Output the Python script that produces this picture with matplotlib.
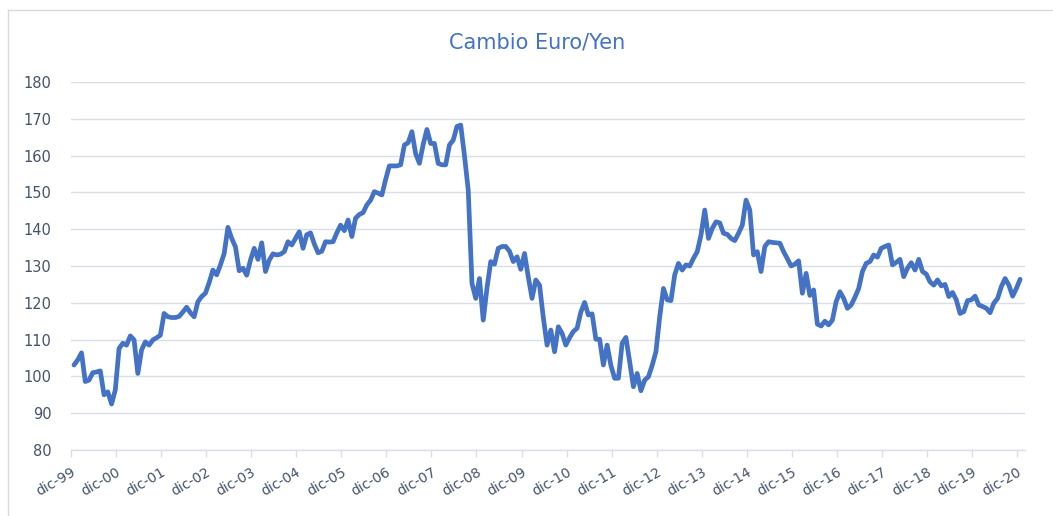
import matplotlib
matplotlib.use("Agg")
import matplotlib.pyplot as plt
from matplotlib.lines import Line2D
import numpy as np

plt.rcParams['font.family'] = ['DejaVu Sans']

title = "Cambio Euro/Yen"

# Monthly EUR/JPY, dic-99 .. dic-20 (253 points)
values = [
    103.1,                                                                          # dic-99
    104.5, 106.4, 98.6, 99.0, 101.0, 101.2, 101.5, 95.0, 95.8, 92.5, 96.3, 107.6,  # 2000
    109.0, 108.5, 111.0, 109.9, 100.8, 107.2, 109.4, 108.5, 109.9, 110.5, 111.2, 117.1,  # 2001
    116.2, 116.0, 116.0, 116.3, 117.5, 118.8, 117.3, 116.2, 120.3, 121.7, 122.6, 125.5,  # 2002
    128.9, 127.6, 130.3, 133.4, 140.5, 137.5, 135.2, 128.7, 129.4, 127.5, 131.6, 134.8,  # 2003
    131.8, 136.3, 128.5, 131.6, 133.3, 133.0, 133.2, 133.9, 136.6, 135.7, 137.5, 139.3,  # 2004
    134.8, 138.5, 139.0, 136.0, 133.6, 134.0, 136.6, 136.5, 136.6, 139.0, 141.1, 139.6,  # 2005
    142.5, 138.0, 143.0, 144.0, 144.5, 146.6, 147.9, 150.2, 149.8, 149.3, 153.5, 157.2,  # 2006
    157.2, 157.2, 157.5, 162.9, 163.5, 166.5, 160.5, 157.9, 163.0, 167.1, 163.3, 163.3,  # 2007
    157.9, 157.5, 157.5, 162.9, 164.2, 167.9, 168.3, 160.0, 150.7, 125.3, 121.2, 126.6,  # 2008
    115.3, 124.0, 131.2, 130.5, 134.8, 135.3, 135.3, 134.0, 131.2, 132.5, 129.1, 133.4,  # 2009
    127.0, 121.2, 126.2, 124.8, 116.0, 108.5, 112.6, 106.7, 113.5, 111.7, 108.5, 110.5,  # 2010
    112.2, 113.1, 117.5, 120.1, 116.7, 117.0, 110.1, 110.1, 103.1, 108.5, 103.0, 99.5,   # 2011
    99.5, 109.0, 110.6, 104.0, 97.2, 100.8, 96.1, 99.0, 99.9, 103.0, 106.7, 116.2,       # 2012
    123.9, 120.8, 120.6, 127.6, 130.7, 128.9, 130.3, 130.0, 132.1, 133.9, 138.4, 145.2,  # 2013
    137.5, 140.2, 142.0, 141.7, 138.9, 138.6, 137.5, 136.9, 138.9, 141.1, 147.9, 145.2,  # 2014
    133.0, 133.9, 128.5, 135.3, 136.6, 136.4, 136.3, 136.2, 133.9, 132.0, 130.0, 130.5,  # 2015
    131.4, 122.6, 128.0, 122.0, 123.5, 114.2, 113.7, 115.0, 114.0, 115.3, 120.3, 123.0,  # 2016
    121.2, 118.5, 119.4, 121.5, 123.9, 128.5, 130.7, 131.2, 133.0, 132.4, 134.8, 135.3,  # 2017
    135.7, 130.3, 131.0, 131.8, 127.1, 129.4, 130.9, 128.9, 131.8, 128.5, 127.8, 125.7,  # 2018
    124.8, 126.2, 124.6, 125.0, 121.7, 122.8, 120.8, 117.1, 117.6, 120.6, 120.8, 121.8,  # 2019
    119.4, 119.0, 118.5, 117.3, 119.9, 121.2, 124.4, 126.6, 124.8, 121.8, 123.9, 126.4,  # 2020
]

tick_labels = ["dic-99", "dic-00", "dic-01", "dic-02", "dic-03", "dic-04", "dic-05",
               "dic-06", "dic-07", "dic-08", "dic-09", "dic-10", "dic-11", "dic-12",
               "dic-13", "dic-14", "dic-15", "dic-16", "dic-17", "dic-18", "dic-19",
               "dic-20"]

y_ticks = [80, 90, 100, 110, 120, 130, 140, 150, 160, 170, 180]

W, H = 1053, 516
fig = plt.figure(figsize=(W / 100, H / 100), dpi=100)
fig.patch.set_facecolor("white")

# outer chart frame (left and top visible)
frame_col = "#D9D9D9"
fig.add_artist(Line2D([8 / W, 8 / W], [0, 1 - 10 / H], color=frame_col, lw=1.0,
                      transform=fig.transFigure))
fig.add_artist(Line2D([8 / W, 1], [1 - 10 / H, 1 - 10 / H], color=frame_col, lw=1.0,
                      transform=fig.transFigure))

left, right = 71 / W, 1025 / W
bottom, top = 1 - 450 / H, 1 - 82 / H
ax = fig.add_axes([left, bottom, right - left, top - bottom])
ax.set_facecolor("white")

x = np.arange(len(values))
ax.plot(x, values, color="#4472C4", lw=3.4, solid_joinstyle="round",
        solid_capstyle="round", zorder=3)

grid_col = "#D9DEE7"
text_col = "#44546A"

ax.set_ylim(80, 180)
ax.set_yticks(y_ticks)
ax.set_yticklabels([str(v) for v in y_ticks], fontsize=10.5, color=text_col)
ax.yaxis.grid(True, color=grid_col, lw=1.0)
ax.set_axisbelow(True)

x0 = -0.8
ax.set_xlim(x0, 253.3)
ticks = [x0 + 12 * k for k in range(len(tick_labels))]
ax.set_xticks(ticks)
ax.set_xticklabels(tick_labels, fontsize=10, color=text_col, rotation=30,
                   ha="right", va="top", rotation_mode="anchor")

ax.tick_params(axis="y", length=0, pad=14)
ax.tick_params(axis="x", length=5, width=1.0, color=grid_col, pad=6, direction="out")

for s in ["top", "right", "left"]:
    ax.spines[s].set_visible(False)
ax.spines["bottom"].set_color(grid_col)
ax.spines["bottom"].set_linewidth(1.0)

fig.text(537 / W, 1 - 43 / H, title, ha="center", va="center",
         fontsize=15, color="#4472C4")

fig.savefig("out.png", dpi=100, facecolor="white")
